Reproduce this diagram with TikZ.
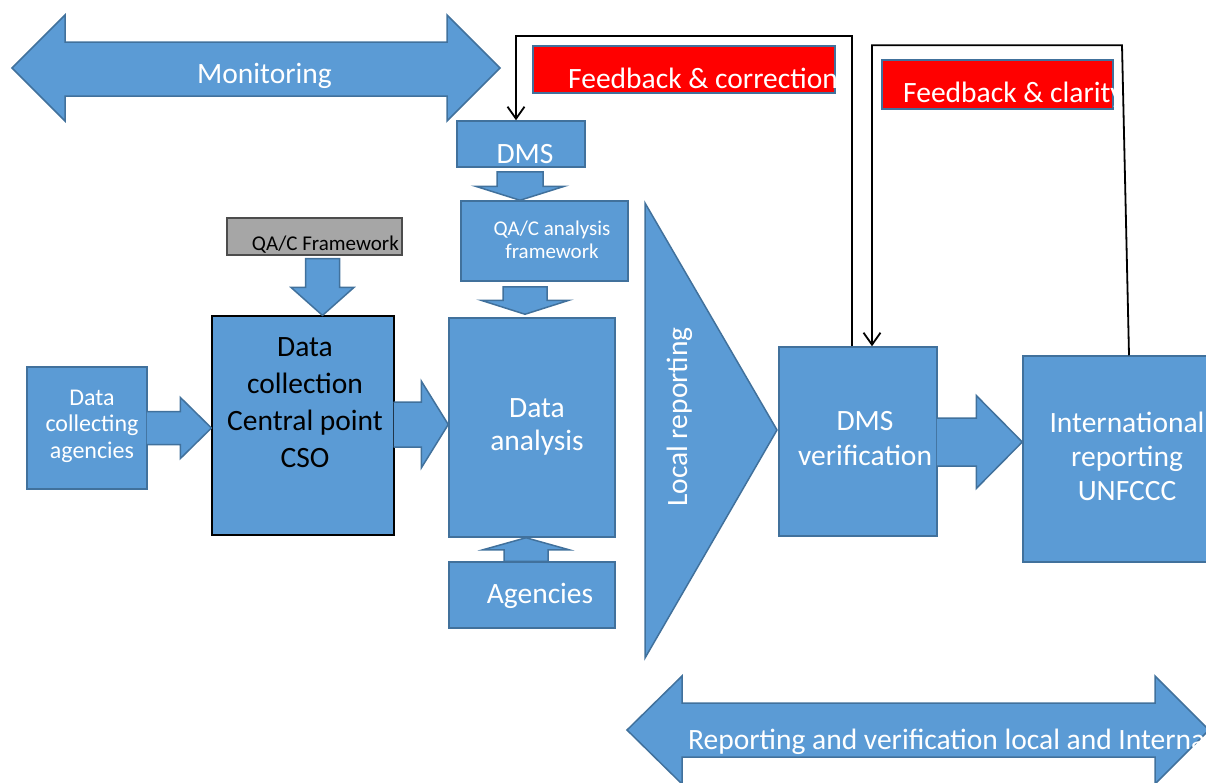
\documentclass[tikz,border=0pt]{standalone}
\usepackage{fontspec}
\setmainfont{Carlito}
\usetikzlibrary{calc,arrows.meta}

\definecolor{boxfill}{HTML}{5B9BD5}
\definecolor{boxline}{HTML}{41719C}
\definecolor{fbred}{HTML}{FF0000}
\definecolor{qagray}{HTML}{A6A6A6}

\tikzset{
  blk/.style={fill=boxfill, draw=boxline, line width=1.5pt, line join=miter},
  box/.style={blk, rectangle, inner sep=0pt},
  wtxt/.style={text=white, inner sep=0pt, align=center, font=\fontsize{29.5}{34}\selectfont},
  btxt/.style={wtxt, text=black},
  fb/.style={draw=black, line width=1.8pt, line join=miter,
             -{Straight Barb[length=12pt,width=17pt]}},
}

% block arrows: start point, tip point, shaft half width, head half width, head length
\newcommand\blockR[5]{%
  \path[blk] let \p1=(#1), \p2=(#2) in
    (\x1,\y1+#3pt) -- (\x2-#5pt,\y1+#3pt) -- (\x2-#5pt,\y1+#4pt) -- (\x2,\y1)
    -- (\x2-#5pt,\y1-#4pt) -- (\x2-#5pt,\y1-#3pt) -- (\x1,\y1-#3pt);}
\newcommand\blockD[5]{%
  \path[blk] let \p1=(#1), \p2=(#2) in
    (\x1-#3pt,\y1) -- (\x1+#3pt,\y1) -- (\x1+#3pt,\y2+#5pt) -- (\x1+#4pt,\y2+#5pt)
    -- (\x1,\y2) -- (\x1-#4pt,\y2+#5pt) -- (\x1-#3pt,\y2+#5pt) -- cycle;}
\newcommand\blockU[5]{%
  \path[blk] let \p1=(#1), \p2=(#2) in
    (\x1-#3pt,\y1) -- (\x1+#3pt,\y1) -- (\x1+#3pt,\y2-#5pt) -- (\x1+#4pt,\y2-#5pt)
    -- (\x1,\y2) -- (\x1-#4pt,\y2-#5pt) -- (\x1-#3pt,\y2-#5pt) -- cycle;}

\begin{document}
\begin{tikzpicture}[x=1pt,y=-1pt]
\useasboundingbox (0,0) rectangle (1206,782);
\clip (0,0) rectangle (1206,782);

% double arrows
\path[blk] (12,68) -- (65,15) -- (65,42) -- (447,42) -- (447,15) -- (500,68)
  -- (447,121) -- (447,96) -- (65,96) -- (65,121) -- cycle;
\node[wtxt, anchor=base west] (tmon) at (197,83) {Monitoring};

\path[blk] (627,730) -- (682,676) -- (682,703) -- (1155,703) -- (1155,676) -- (1209,730)
  -- (1155,784) -- (1155,757) -- (682,757) -- (682,784) -- cycle;
\node[wtxt, anchor=base west] (trep) at (688,749) {Reporting and verification local and International};

% boxes
\node[box, minimum width=120pt, minimum height=122pt] (dcag) at (87,428) {};
\node[box, draw=black, line width=1.2pt, minimum width=182pt, minimum height=219pt] (cso) at (303,425.5) {};
\node[box, fill=qagray, draw=black!70, line width=1.2pt, minimum width=175pt, minimum height=37pt] (qacf) at (314.5,236.5) {};
\node[box, minimum width=128pt, minimum height=46pt] (dms) at (521,144) {};
\node[box, minimum width=167pt, minimum height=80pt] (qaan) at (544.5,241) {};
\node[box, minimum width=166pt, minimum height=219pt] (dana) at (532,427.5) {};
\node[box, minimum width=166pt, minimum height=66pt] (agen) at (532,595) {};
\node[box, minimum width=158pt, minimum height=189pt] (dmsv) at (858,441.5) {};
\node[box, minimum width=200pt, minimum height=206pt] (intl) at (1123,459) {};
\node[box, fill=fbred, minimum width=302pt, minimum height=47pt] (red1) at (684,69.5) {};
\node[box, fill=fbred, minimum width=231pt, minimum height=49pt] (red2) at (997.5,84.5) {};

% local reporting wedge
\path[blk] (645,203) -- (645,658) -- (777,430) -- cycle;
\node[wtxt, rotate=90, anchor=base west] (tloc) at (687,507) {Local reporting};

% block arrows between boxes
\blockR{$(dcag.east)+(-1,0)$}{cso.west}{16.5}{30.5}{31}
\blockR{$(cso.east)+(-1,-1)$}{dana.west}{22.5}{43.5}{27}
\blockR{$(dmsv.east)+(-1,0.5)$}{intl.west}{24}{46.5}{46}
\blockD{$(qacf.south)+(8,3)$}{cso.north}{17}{31.5}{28}
\blockD{$(dms.south)+(-1,4)$}{qaan.north}{23}{44.5}{14}
\blockD{$(qaan.south)+(-19.5,5)$}{$(dana.north)+(0,-3)$}{22}{44}{14}
\blockU{$(agen.north)+(-6,0)$}{dana.south}{22}{43}{12}

% box texts (base anchor sits on the last line)
\node[wtxt, anchor=base, font=\fontsize{24}{26.5}\selectfont] (tdcag) at (92,458) {Data\\collecting\\agencies};
\node[btxt, anchor=base, font=\fontsize{29.5}{36.7}\selectfont] (tcso) at (305,467) {Data\\collection\\Central point\\CSO};
\node[btxt, anchor=base east, font=\fontsize{21}{24}\selectfont] (tqacf) at (399,250) {QA/C Framework};
\node[wtxt, anchor=base] (tdms) at (525,163) {DMS};
\node[wtxt, anchor=base, font=\fontsize{21}{23}\selectfont] (tqaan) at (552,258) {QA/C analysis\\framework};
\node[wtxt, anchor=base, font=\fontsize{29.5}{33}\selectfont] (tdana) at (537,450) {Data\\analysis};
\node[wtxt, anchor=base] (tagen) at (540,603) {Agencies};
\node[wtxt, anchor=base, font=\fontsize{29.5}{35}\selectfont] (tdmsv) at (865,465) {DMS\\verification};
\node[wtxt, anchor=base, font=\fontsize{29.5}{34}\selectfont] (tintl) at (1127,500) {International\\reporting\\UNFCCC};

% feedback labels
\begin{scope}
  \clip (red1.south west) rectangle ($(red1.north east)+(1,0)$);
  \node[wtxt, anchor=base west] (tfb1) at (568,88) {Feedback \& correction};
\end{scope}
\begin{scope}
  \clip (red2.south west) rectangle ($(red2.north east)+(1,0)$);
  \node[wtxt, anchor=base west] (tfb2) at (903,102) {Feedback \& clarity};
\end{scope}

% feedback loops
\draw[fb] ($(dmsv.north)+(-6,0)$) -- ++(0,-310) -| ($(dms.north)+(-5,0)$);
\draw[fb] ($(intl.north)+(6,0)$) -- ++(-7,-310) -| ($(dmsv.north)+(14,0)$);
\end{tikzpicture}
\end{document}
